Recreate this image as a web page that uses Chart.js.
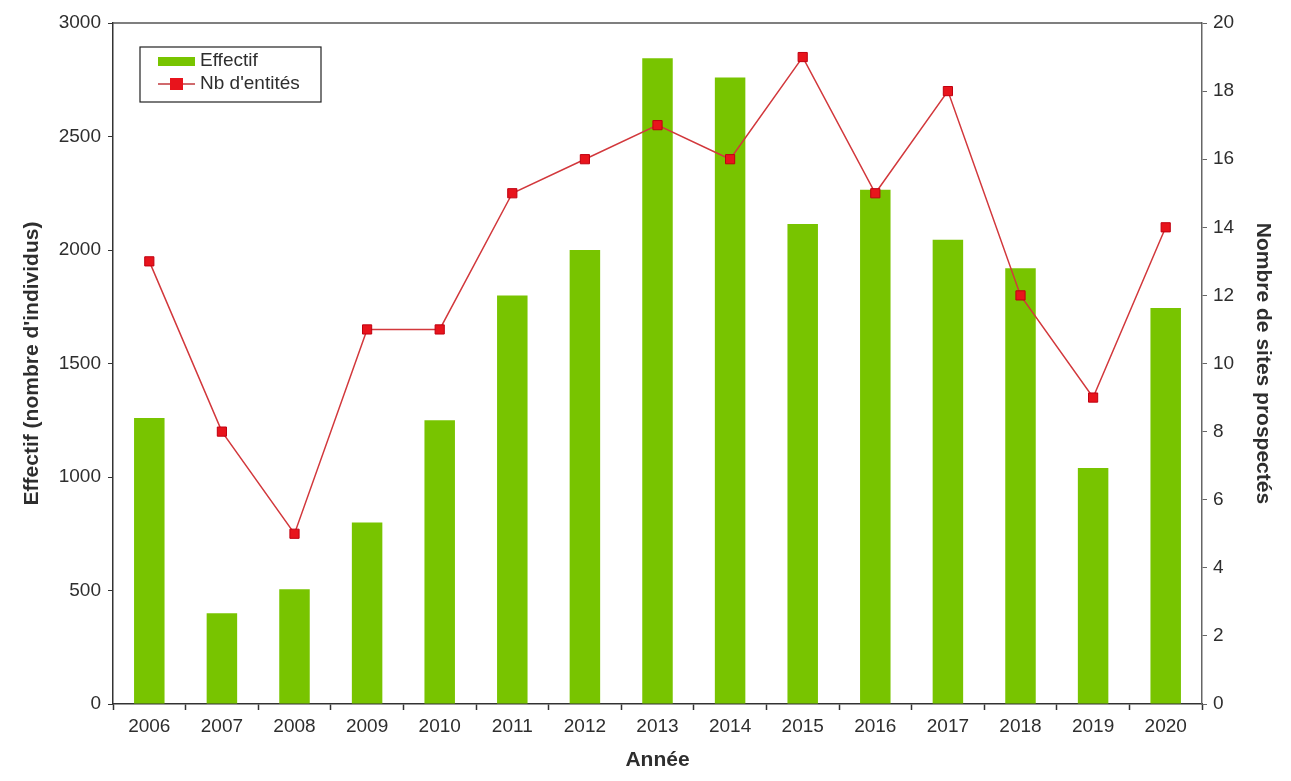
<!DOCTYPE html>
<html>
<head>
<meta charset="utf-8">
<script src="https://cdn.jsdelivr.net/npm/chart.js@4.4.1/dist/chart.umd.min.js"></script>
<style>
  html, body { margin: 0; padding: 0; background: #fff; }
  #wrap { width: 1291px; height: 781px; position: relative; }
</style>
</head>
<body>
<div id="wrap"><canvas id="graphique" width="1291" height="781"></canvas></div>
<script>
const annees = ["2006", "2007", "2008", "2009", "2010", "2011", "2012", "2013", "2014", "2015", "2016", "2017", "2018", "2019", "2020"];
const effectif = [1260, 400, 505, 800, 1250, 1800, 2000, 2845, 2760, 2115, 2265, 2045, 1920, 1040, 1745];
const nbEntites = [13, 8, 5, 11, 11, 15, 16, 17, 16, 19, 15, 18, 12, 9, 14];

const vert = "#78c400";
const rouge = "#e8141c";
const texte = "#2e2e2e";

// légende dessinée dans la zone du graphique
const legendeInterne = {
  id: "legendeInterne",
  afterDraw(chart) {
    const c = chart.ctx;
    const x = chart.chartArea.left + 27, y = chart.chartArea.top + 24;
    c.save();
    c.strokeStyle = "#222";
    c.lineWidth = 1.2;
    c.strokeRect(x, y, 181, 55);
    c.fillStyle = vert;
    c.fillRect(x + 18, y + 10, 37, 9);
    c.strokeStyle = "#c0383c";
    c.lineWidth = 1.5;
    c.beginPath();
    c.moveTo(x + 18, y + 37);
    c.lineTo(x + 55, y + 37);
    c.stroke();
    c.fillStyle = rouge;
    c.fillRect(x + 30, y + 31, 13, 12);
    c.fillStyle = texte;
    c.font = "19px 'Liberation Sans', Arial, sans-serif";
    c.textBaseline = "middle";
    c.fillText("Effectif", x + 60, y + 14);
    c.fillText("Nb d'entités", x + 60, y + 37);
    c.restore();
  }
};

// cadre supérieur
const cadre = {
  id: "cadre",
  afterDatasetsDraw(chart) {
    const a = chart.chartArea, c = chart.ctx;
    c.save();
    c.strokeStyle = "#555";
    c.lineWidth = 1.5;
    c.beginPath();
    c.moveTo(a.left, a.top);
    c.lineTo(a.right, a.top);
    c.stroke();
    c.restore();
  }
};

const police = { family: "'Liberation Sans', Arial, sans-serif", size: 19 };
const titre = { family: "'Liberation Sans', Arial, sans-serif", size: 21, weight: "bold" };
const brut = v => String(v);

new Chart(document.getElementById("graphique"), {
  data: {
    labels: annees,
    datasets: [
      {
        type: "line",
        label: "Nb d'entités",
        data: nbEntites,
        yAxisID: "yDroite",
        borderColor: "#d2383c",
        borderWidth: 1.5,
        backgroundColor: rouge,
        pointStyle: "rect",
        pointRadius: 6.5,
        pointBorderColor: "#c00010",
        pointBorderWidth: 1,
        tension: 0,
        order: 1
      },
      {
        type: "bar",
        label: "Effectif",
        data: effectif,
        yAxisID: "y",
        backgroundColor: vert,
        barPercentage: 0.42,
        categoryPercentage: 1,
        order: 2
      }
    ]
  },
  options: {
    responsive: false,
    animation: false,
    devicePixelRatio: 1,
    layout: { padding: { top: 23, left: 20, right: 16, bottom: 0 } },
    plugins: {
      legend: { display: false },
      tooltip: { enabled: false }
    },
    scales: {
      x: {
        offset: true,
        grid: { offset: true, drawOnChartArea: false, drawTicks: true, tickLength: 6, color: "#333", tickWidth: 1.5 },
        border: { color: "#333", width: 1.5 },
        ticks: { color: texte, font: police, padding: 5, maxRotation: 0, autoSkip: false },
        title: { display: true, text: "Année", color: texte, font: titre, padding: { top: 4, bottom: 8 } },
        afterFit(s) { s.height = 77; }
      },
      y: {
        position: "left",
        min: 0,
        max: 3000,
        ticks: { stepSize: 500, color: texte, font: police, padding: 7, callback: brut },
        grid: { drawOnChartArea: false, tickLength: 5, color: "#333" },
        border: { color: "#333", width: 1.5 },
        title: { display: true, text: "Effectif (nombre d'individus)", color: texte, font: titre, padding: 0 },
        afterFit(s) { s.width = 93; }
      },
      yDroite: {
        position: "right",
        min: 0,
        max: 20,
        ticks: { stepSize: 2, color: texte, font: police, padding: 6, callback: brut },
        grid: { drawOnChartArea: false, tickLength: 5, color: "#666" },
        border: { color: "#666", width: 1.5 },
        title: { display: true, text: "Nombre de sites prospectés", color: texte, font: titre, padding: 0 },
        afterFit(s) { s.width = 73; }
      }
    }
  },
  plugins: [legendeInterne, cadre]
});
</script>
</body>
</html>
